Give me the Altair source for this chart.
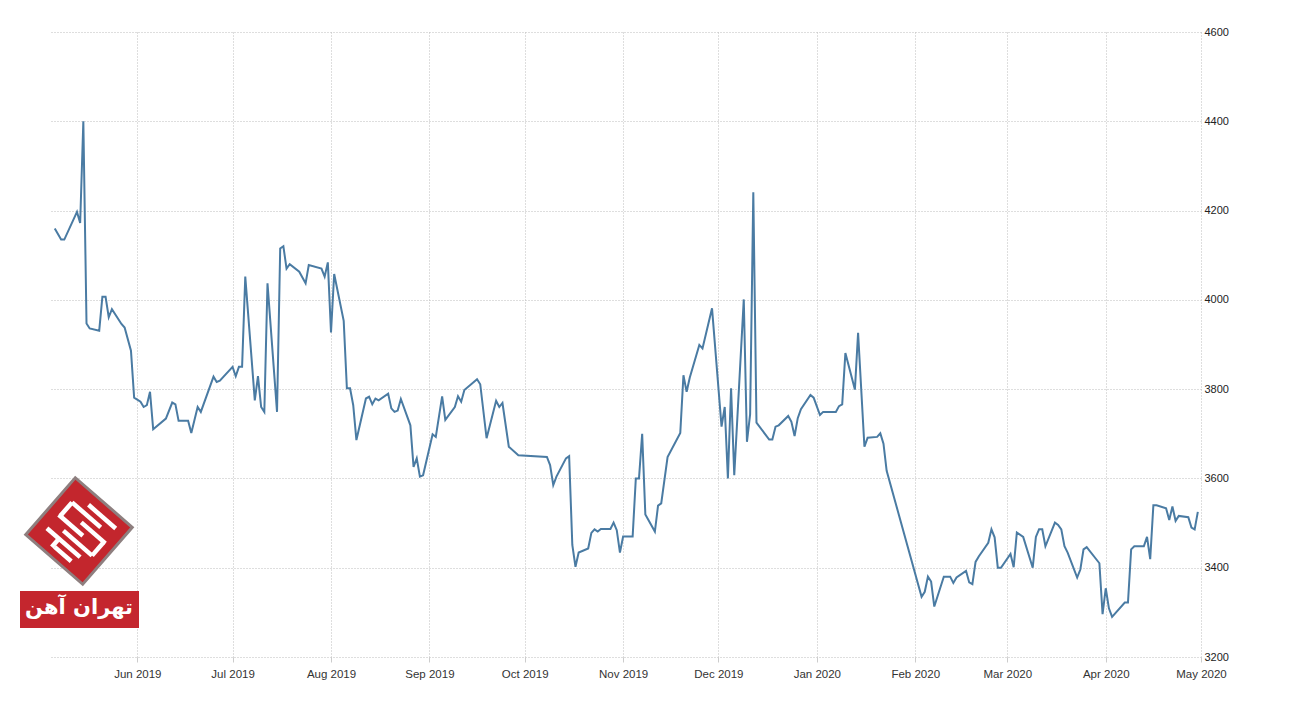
import math
import altair as alt
import pandas as pd

# ---- data ----
dates = [
    "2019-05-06", "2019-05-08", "2019-05-09", "2019-05-13", "2019-05-14", "2019-05-15", "2019-05-16",
    "2019-05-17", "2019-05-20", "2019-05-21", "2019-05-22", "2019-05-23", "2019-05-24", "2019-05-27",
    "2019-05-28", "2019-05-30", "2019-05-31",
    "2019-06-02", "2019-06-03", "2019-06-04", "2019-06-05", "2019-06-06", "2019-06-10", "2019-06-12",
    "2019-06-13", "2019-06-14", "2019-06-17", "2019-06-18", "2019-06-20", "2019-06-21", "2019-06-25",
    "2019-06-26", "2019-06-27",
    "2019-07-01", "2019-07-02", "2019-07-03", "2019-07-04", "2019-07-05", "2019-07-08", "2019-07-09",
    "2019-07-10", "2019-07-11", "2019-07-12", "2019-07-15", "2019-07-16", "2019-07-17", "2019-07-18",
    "2019-07-19", "2019-07-22", "2019-07-24", "2019-07-25", "2019-07-29", "2019-07-30", "2019-07-31",
    "2019-08-01", "2019-08-02", "2019-08-05", "2019-08-06", "2019-08-07", "2019-08-08", "2019-08-09",
    "2019-08-12", "2019-08-13", "2019-08-14", "2019-08-15", "2019-08-16", "2019-08-19", "2019-08-20",
    "2019-08-21", "2019-08-22", "2019-08-23", "2019-08-26", "2019-08-27", "2019-08-28", "2019-08-29",
    "2019-08-30",
    "2019-09-02", "2019-09-03", "2019-09-05", "2019-09-06", "2019-09-09", "2019-09-10", "2019-09-11",
    "2019-09-12", "2019-09-16", "2019-09-17", "2019-09-19", "2019-09-22", "2019-09-23", "2019-09-24",
    "2019-09-26", "2019-09-29",
    "2019-10-08", "2019-10-09", "2019-10-10", "2019-10-11", "2019-10-14", "2019-10-15", "2019-10-16",
    "2019-10-17", "2019-10-18", "2019-10-21", "2019-10-22", "2019-10-23", "2019-10-24", "2019-10-25",
    "2019-10-28", "2019-10-29", "2019-10-30", "2019-10-31",
    "2019-11-01", "2019-11-04", "2019-11-05", "2019-11-06", "2019-11-07", "2019-11-08", "2019-11-11",
    "2019-11-12", "2019-11-13", "2019-11-15", "2019-11-19", "2019-11-20", "2019-11-21", "2019-11-22",
    "2019-11-25", "2019-11-26", "2019-11-29",
    "2019-12-02", "2019-12-03", "2019-12-04", "2019-12-05", "2019-12-06", "2019-12-09", "2019-12-10",
    "2019-12-11", "2019-12-12", "2019-12-13", "2019-12-17", "2019-12-18", "2019-12-19", "2019-12-20",
    "2019-12-23", "2019-12-24", "2019-12-25", "2019-12-26", "2019-12-27", "2019-12-30", "2019-12-31",
    "2020-01-02", "2020-01-03", "2020-01-07", "2020-01-08", "2020-01-09", "2020-01-10", "2020-01-13",
    "2020-01-14", "2020-01-16", "2020-01-17", "2020-01-20", "2020-01-21", "2020-01-22", "2020-01-23",
    "2020-02-03", "2020-02-04", "2020-02-05", "2020-02-06", "2020-02-07", "2020-02-10", "2020-02-12",
    "2020-02-13", "2020-02-14", "2020-02-17", "2020-02-18", "2020-02-19", "2020-02-20", "2020-02-21",
    "2020-02-24", "2020-02-25", "2020-02-26", "2020-02-27", "2020-02-28",
    "2020-03-02", "2020-03-03", "2020-03-04", "2020-03-06", "2020-03-09", "2020-03-10", "2020-03-11",
    "2020-03-12", "2020-03-13", "2020-03-16", "2020-03-17", "2020-03-18", "2020-03-19", "2020-03-20",
    "2020-03-23", "2020-03-24", "2020-03-25", "2020-03-26", "2020-03-30", "2020-03-31",
    "2020-04-01", "2020-04-02", "2020-04-03", "2020-04-07", "2020-04-08", "2020-04-09", "2020-04-10",
    "2020-04-13", "2020-04-14", "2020-04-15", "2020-04-16", "2020-04-17", "2020-04-20", "2020-04-21",
    "2020-04-22", "2020-04-23", "2020-04-24", "2020-04-27", "2020-04-28", "2020-04-29", "2020-04-30",
]

prices = [
    4160, 4135, 4135, 4197, 4172, 4400, 3947,
    3936, 3931, 4007, 4007, 3961, 3979, 3946,
    3938, 3886, 3781,
    3772, 3760, 3764, 3794, 3710, 3734, 3770,
    3766, 3729, 3729, 3702, 3760, 3749, 3828,
    3816, 3819,
    3850, 3829, 3850, 3850, 4052, 3775, 3829,
    3760, 3749, 4037, 3749, 4115, 4120, 4070,
    4080, 4063, 4037, 4078, 4070, 4052, 4084,
    3927, 4058, 3953, 3802, 3802, 3764, 3686,
    3779, 3783, 3766, 3779, 3775, 3790, 3757,
    3749, 3752, 3778, 3719, 3626, 3645, 3604,
    3607,
    3699, 3693, 3784, 3731, 3760, 3784, 3772,
    3798, 3822, 3811, 3690, 3774, 3760, 3769,
    3671, 3652,
    3648, 3630, 3585, 3604, 3645, 3650, 3451,
    3402, 3434, 3443, 3478, 3486, 3481, 3487,
    3487, 3501, 3484, 3434,
    3470, 3470, 3600, 3600, 3700, 3519, 3481,
    3539, 3544, 3648, 3702, 3831, 3794, 3826,
    3899, 3891, 3981,
    3716, 3760, 3600, 3802, 3607, 4001, 3682,
    3744, 4241, 3725, 3687, 3687, 3716, 3719,
    3740, 3727, 3695, 3735, 3755, 3787, 3781,
    3742, 3749, 3749, 3762, 3766, 3881, 3799,
    3926, 3671, 3691, 3693, 3701, 3678, 3617,
    3335, 3346, 3380, 3369, 3313, 3380, 3380,
    3366, 3378, 3393, 3367, 3363, 3413, 3425,
    3456, 3486, 3468, 3400, 3400,
    3431, 3401, 3479, 3469, 3400, 3469, 3486,
    3486, 3448, 3501, 3496, 3486, 3448, 3434,
    3378, 3396, 3441, 3446, 3410, 3296,
    3354, 3309, 3290, 3322, 3322, 3441, 3448,
    3448, 3469, 3419, 3540, 3540, 3533, 3507,
    3537, 3505, 3516, 3513, 3490, 3486, 3525,
]

y_ticks = [3200, 3400, 3600, 3800, 4000, 4200, 4400, 4600]
month_ticks = [
    "2019-06-01", "2019-07-01", "2019-08-01", "2019-09-01", "2019-10-01", "2019-11-01",
    "2019-12-01", "2020-01-01", "2020-02-01", "2020-03-01", "2020-04-01", "2020-05-01",
]
x_start = "2019-05-04"
x_end = "2020-05-01"
logo_label = "تهران آهن"


def dt(s, hours=0):
    y, m, d = map(int, s.split("-"))
    return alt.DateTime(year=y, month=m, date=d, hours=hours, utc=True)


df = pd.DataFrame({"date": dates, "price": prices})

grid_color = "#bdbdbd"

line = alt.Chart(df).mark_line(color="#4a7ba3", strokeWidth=2).encode(
    x=alt.X(
        "date:T",
        scale=alt.Scale(type="utc", domain=[dt(x_start, 12), dt(x_end)]),
        axis=alt.Axis(
            values=[dt(s) for s in month_ticks],
            format="%b %Y",
            title=None,
            grid=True,
            gridColor=grid_color,
            gridDash=[1, 2],
            domain=False,
            ticks=True,
            tickColor="#cccccc",
            tickSize=5,
            labelFont="Liberation Sans",
            labelFontSize=11.5,
            labelColor="#333333",
            labelPadding=6,
            labelFlush=False,
            labelOverlap=False,
        ),
    ),
    y=alt.Y(
        "price:Q",
        scale=alt.Scale(domain=[3200, 4600], nice=False, zero=False),
        axis=alt.Axis(
            orient="right",
            values=y_ticks,
            format="d",
            title=None,
            grid=True,
            gridColor=grid_color,
            gridDash=[1, 2],
            domain=False,
            ticks=False,
            labelPadding=3,
            labelFont="Liberation Sans",
            labelFontSize=11,
            labelColor="#222222",
            labelFlush=False,
        ),
    ),
)

# ---- logo (decoration, pixel positions relative to plot origin) ----
logo_df = pd.DataFrame({"label": [logo_label]})
cx, cy = 29, 499
theta = math.radians(41)

diamond = alt.Chart(logo_df).mark_point(
    shape="square", filled=True, fill="#c3262d", stroke="#8e7f7f", strokeWidth=3,
    size=5700, angle=41, opacity=1,
).encode(x=alt.value(cx), y=alt.value(cy))

# kufic-like strokes in the square's local frame: (a1, b1, a2, b2)
strokes = [
    (-10, -26, 26, -26), (-24, -17, 14, -17), (-4, -8, 28, -8), (-26, 1, 6, 1),
    (-12, 10, 26, 10), (-26, 19, 18, 19), (-8, 28, 14, 28),
    (-24, -17, -24, 1), (26, -8, 26, 10), (-10, 19, -10, 30),
]


def to_px(a, b):
    ax, ay = math.cos(theta), math.sin(theta)
    bx, by = -math.sin(theta), math.cos(theta)
    return cx + a * ax + b * bx, cy + a * ay + b * by


stroke_layers = []
for a1, b1, a2, b2 in strokes:
    x1, y1 = to_px(a1, b1)
    x2, y2 = to_px(a2, b2)
    stroke_layers.append(
        alt.Chart(logo_df).mark_rule(color="#ffffff", strokeWidth=4.5).encode(
            x=alt.value(x1), y=alt.value(y1), x2=alt.value(x2), y2=alt.value(y2)
        )
    )

banner = alt.Chart(logo_df).mark_rect(color="#c4262e").encode(
    x=alt.value(-30), x2=alt.value(89), y=alt.value(559), y2=alt.value(596)
)
banner_text = alt.Chart(logo_df).mark_text(
    color="#ffffff", font="DejaVu Sans", fontSize=21, fontWeight="bold", baseline="middle", align="center"
).encode(text="label:N", x=alt.value(29), y=alt.value(576))

chart = alt.layer(line, diamond, *stroke_layers, banner, banner_text).properties(
    width=1151,
    height=625,
    autosize=alt.AutoSizeParams(type="none"),
    padding={"left": 42, "top": 24, "right": 70, "bottom": 40},
    background="#ffffff",
).configure_view(stroke=None)

chart.save("out.html", embed_options={"renderer": "svg", "actions": False})
